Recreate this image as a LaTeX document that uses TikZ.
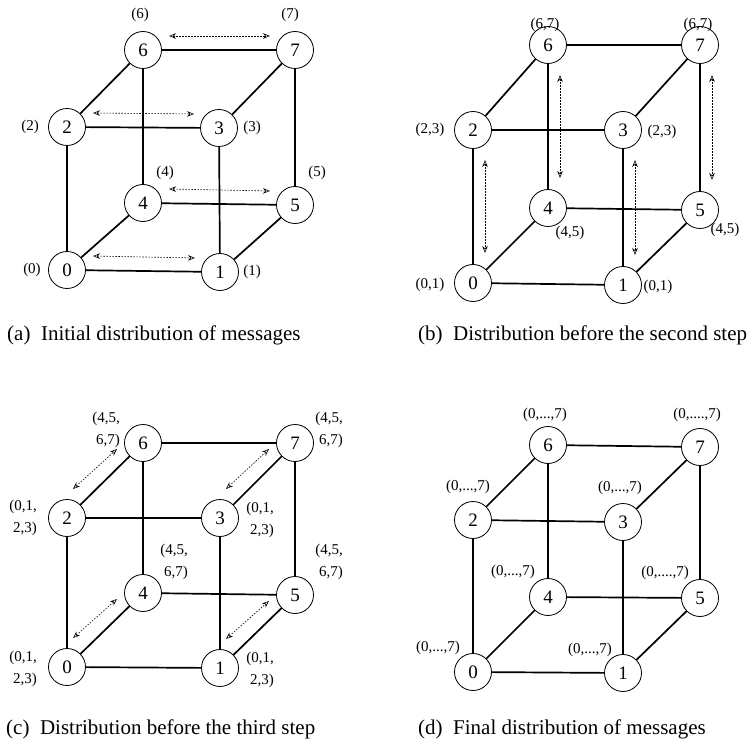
\documentclass[tikz,border=0pt]{standalone}
\usepackage{fontspec}
\setmainfont{Liberation Serif}
\usetikzlibrary{arrows.meta}
\begin{document}
\begin{tikzpicture}[x=1pt,y=-1pt,
  vtx/.style={circle,draw,line width=0.8pt,minimum size=37pt,inner sep=0pt,fill=white,font=\fontsize{19}{19}\selectfont},
  cedge/.style={line width=1.7pt},
  msg/.style={dash pattern=on 1.5pt off 1.5pt,line width=0.6pt,{Stealth[open,length=7pt,width=5.5pt]}-{Stealth[open,length=7pt,width=5.5pt]}},
  lbl/.style={font=\fontsize{15}{22}\selectfont,inner sep=0pt},
  captxt/.style={font=\fontsize{21}{25}\selectfont,anchor=west,inner sep=0pt}]
\useasboundingbox (0,0) rectangle (748,741);
% ---------- (a)
\foreach \n/\x/\y in {0/67/270,1/220/272,2/67/127,3/219/128,4/143/203,5/295/205,6/143/50,7/295/50}
  \node[vtx] (a\n) at (\x,\y) {\n};
\foreach \u/\v in {0/1,2/3,4/5,6/7,0/2,1/3,4/6,5/7,0/4,1/5,2/6,3/7}
  \draw[cedge] (a\u) -- (a\v);
\foreach \u/\v in {6/7,2/3,4/5,0/1}
  \draw[msg] ([xshift=26pt,yshift=14pt]a\u.center) -- ([xshift=-25pt,yshift=14pt]a\v.center);
\foreach \n/\x/\y in {6/140/15,7/290/15,2/30/127,3/252/128,4/165/173,5/317/173,0/32/270,1/252/272}
  \node[lbl] (la\n) at (\x,\y) {(\n)};
\node[captxt] (capa) at (7,335) {(a)\ \ Initial distribution of messages};
% ---------- (b)
\foreach \n/\x/\y in {0/473/283,1/623/285,2/473/130,3/623/130,4/548/208,5/700/210,6/548/45,7/700/45}
  \node[vtx] (b\n) at (\x,\y) {\n};
\foreach \u/\v in {0/1,2/3,4/5,6/7,0/2,1/3,4/6,5/7,0/4,1/5,2/6,3/7}
  \draw[cedge] (b\u) -- (b\v);
\foreach \u/\v in {2/0,3/1,6/4,7/5}
  \draw[msg] ([xshift=12pt,yshift=-30pt]b\u.center) -- ([xshift=12pt,yshift=30pt]b\v.center);
\foreach \n/\t/\x/\y in {6/{(6,7)}/545/25,7/{(6,7)}/698/25,2/{(2,3)}/430/130,3/{(2,3)}/662/132,4/{(4,5)}/570/233,5/{(4,5)}/725/230,0/{(0,1)}/430/285,1/{(0,1)}/658/287}
  \node[lbl] (lb\n) at (\x,\y) {\t};
\node[captxt] (capb) at (418,335) {(b)\ \ Distribution before the second step};
% ---------- (c)
\foreach \n/\x/\y in {0/67/667,1/220/668,2/67/518,3/220/518,4/143/593,5/295/595,6/143/443,7/295/443}
  \node[vtx] (c\n) at (\x,\y) {\n};
\foreach \u/\v in {0/1,2/3,4/5,6/7,0/2,1/3,4/6,5/7,0/4,1/5,2/6,3/7}
  \draw[cedge] (c\u) -- (c\v);
\foreach \u/\v in {2/6,3/7,0/4,1/5}
  \draw[msg] ([xshift=6pt,yshift=29pt]c\u.center) -- ([xshift=-26pt,yshift=-6pt]c\v.center);
\foreach \n/\a/\b/\x/\y in {6/{(4,5,}/{6,7)}/120/430,7/{(4,5,}/{6,7)}/343/430,2/{(0,1,}/{2,3)}/37/518,3/{(0,1,}/{2,3)}/274/520,4/{(4,5,}/{6,7)}/188/562,5/{(4,5,}/{6,7)}/343/562,0/{(0,1,}/{2,3)}/37/669,1/{(0,1,}/{2,3)}/274/670}
  \node[lbl,align=right,anchor=east] (lc\n) at (\x,\y) {\a\\\b};
\node[captxt] (capc) at (6,729) {(c)\ \ Distribution before the third step};
% ---------- (d)
\foreach \n/\x/\y in {0/473/672,1/623/673,2/473/520,3/623/522,4/548/597,5/700/598,6/548/445,7/700/447}
  \node[vtx] (d\n) at (\x,\y) {\n};
\foreach \u/\v in {0/1,2/3,4/5,6/7,0/2,1/3,4/6,5/7,0/4,1/5,2/6,3/7}
  \draw[cedge] (d\u) -- (d\v);
\foreach \n/\t/\x/\y in {6/{(0,...,7)}/545/415,7/{(0,....,7)}/697/415,2/{(0,...,7)}/468/487,3/{(0,...,7)}/620/488,4/{(0,...,7)}/513/572,5/{(0,....,7)}/665/573,0/{(0,...,7)}/438/648,1/{(0,...,7)}/590/650}
  \node[lbl] (ld\n) at (\x,\y) {\t};
\node[captxt] (capd) at (418,729) {(d)\ \ Final distribution of messages};
\end{tikzpicture}
\end{document}
